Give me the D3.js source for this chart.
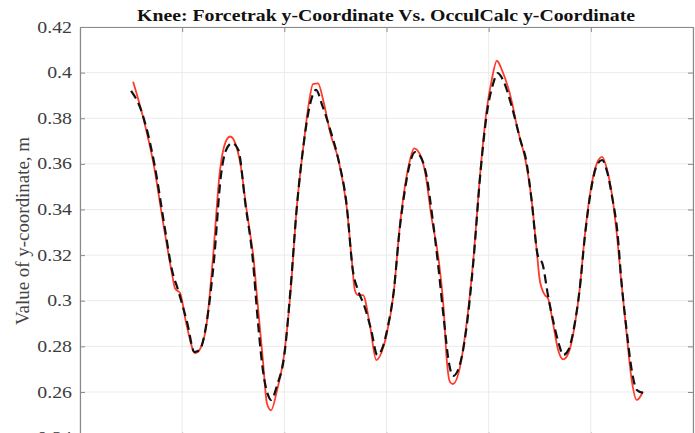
<!DOCTYPE html>
<html>
<head>
<meta charset="utf-8">
<script src="https://cdn.jsdelivr.net/npm/d3@7"></script>
<style>
	body { margin: 0; background: #fff; overflow: hidden; }
	text { font-family: "Liberation Serif", "Times New Roman", serif; }
</style>
</head>
<body>
<div id="chart-area"></div>
<script>
// Forcetrak (red, solid)
const forcetrakX = [0.52, 0.62, 0.72, 0.82, 0.90, 0.93, 0.98, 1.04, 1.13, 1.17, 1.24, 1.30, 1.37, 1.42, 1.47, 1.52, 1.57, 1.63, 1.66, 1.70, 1.73, 1.79, 1.83, 1.87, 1.93, 1.99, 2.06, 2.12, 2.19, 2.24, 2.28, 2.33, 2.38, 2.45, 2.53, 2.61, 2.66, 2.69, 2.72, 2.77, 2.84, 2.90, 2.97, 3.00, 3.07, 3.13, 3.18, 3.23, 3.27, 3.33, 3.38, 3.44, 3.51, 3.56, 3.59, 3.62, 3.65, 3.72, 3.78, 3.85, 3.92, 3.98, 4.03, 4.08, 4.13, 4.23, 4.27, 4.31, 4.36, 4.42, 4.47, 4.50, 4.55, 4.58, 4.63, 4.68, 4.73, 4.78, 4.84, 4.89, 4.94, 5.01, 5.06, 5.11, 5.16, 5.21, 5.25, 5.30, 5.35, 5.40, 5.45, 5.51];
const forcetrakY = [0.396, 0.380, 0.360, 0.3325, 0.312, 0.3054, 0.3033, 0.290, 0.277, 0.2784, 0.290, 0.318, 0.357, 0.369, 0.372, 0.369, 0.360, 0.340, 0.331, 0.318, 0.303, 0.274, 0.255, 0.252, 0.261, 0.274, 0.3033, 0.340, 0.369, 0.3866, 0.395, 0.3953, 0.388, 0.3734, 0.3617, 0.3412, 0.318, 0.3047, 0.3025, 0.3025, 0.2886, 0.274, 0.2798, 0.285, 0.3033, 0.3325, 0.350, 0.3617, 0.3668, 0.3639, 0.3559, 0.3368, 0.318, 0.296, 0.274, 0.2645, 0.2635, 0.2711, 0.2886, 0.318, 0.3573, 0.3836, 0.3968, 0.4052, 0.4011, 0.3866, 0.3778, 0.3705, 0.3617, 0.3442, 0.3222, 0.3091, 0.3025, 0.3011, 0.2901, 0.2784, 0.2743, 0.2769, 0.2886, 0.3047, 0.3281, 0.3515, 0.3603, 0.3631, 0.3573, 0.3456, 0.331, 0.3076, 0.2857, 0.2652, 0.2565, 0.2601];

// OcculCalc (black, dashed)
const occulX = [0.50, 0.59, 0.73, 0.83, 0.90, 0.96, 1.05, 1.12, 1.17, 1.24, 1.31, 1.38, 1.43, 1.49, 1.55, 1.62, 1.69, 1.74, 1.79, 1.84, 1.87, 1.93, 2.00, 2.06, 2.12, 2.19, 2.25, 2.31, 2.37, 2.45, 2.53, 2.61, 2.67, 2.72, 2.78, 2.85, 2.91, 2.97, 3.01, 3.07, 3.13, 3.18, 3.23, 3.28, 3.34, 3.39, 3.45, 3.50, 3.56, 3.61, 3.65, 3.70, 3.78, 3.85, 3.92, 3.98, 4.04, 4.09, 4.14, 4.23, 4.31, 4.37, 4.42, 4.48, 4.53, 4.58, 4.64, 4.69, 4.73, 4.78, 4.84, 4.89, 4.94, 5.01, 5.06, 5.11, 5.16, 5.21, 5.26, 5.30, 5.35, 5.40, 5.45, 5.51];
const occulY = [0.392, 0.3845, 0.3595, 0.3319, 0.3135, 0.3047, 0.2902, 0.2775, 0.2784, 0.2907, 0.317, 0.3551, 0.3661, 0.3691, 0.3661, 0.342, 0.3187, 0.2915, 0.2696, 0.2587, 0.2565, 0.2631, 0.2762, 0.3047, 0.3398, 0.369, 0.3858, 0.3924, 0.3858, 0.3748, 0.3617, 0.342, 0.3135, 0.3047, 0.2981, 0.2872, 0.2762, 0.2806, 0.288, 0.3038, 0.3319, 0.3485, 0.3604, 0.3652, 0.3626, 0.3551, 0.3363, 0.3179, 0.2924, 0.2731, 0.267, 0.2696, 0.2872, 0.317, 0.3564, 0.3814, 0.3946, 0.3998, 0.3968, 0.3845, 0.3705, 0.3608, 0.3442, 0.320, 0.3157, 0.3025, 0.2894, 0.2806, 0.2762, 0.2784, 0.2894, 0.3047, 0.3275, 0.3507, 0.3595, 0.3617, 0.3564, 0.3451, 0.3301, 0.3082, 0.2872, 0.2696, 0.2609, 0.2596];

const yTicks = [0.24, 0.26, 0.28, 0.3, 0.32, 0.34, 0.36, 0.38, 0.4, 0.42];
const xTicks = [0, 1, 2, 3, 4, 5, 6];

const titleText = "Knee: Forcetrak y-Coordinate Vs. OcculCalc y-Coordinate";
const yLabelText = "Value of y-coordinate, m";

const svgWidth = 695,
	svgHeight = 433;
const margin = {left: 80, right: 2, top: 27};
const areaWidth = svgWidth - margin.left - margin.right;
const areaHeight = 410.6;
// the source picture is stretched sideways, so text is widened a little
const stretch = 1.24;

const svg = d3.select("#chart-area")
	.append("svg")
	.attr("width", svgWidth)
	.attr("height", svgHeight);

const area = svg.append("g")
	.attr("transform", `translate(${margin.left}, ${margin.top})`);

const x = d3.scaleLinear().domain([0, 6]).range([0, areaWidth]);
const y = d3.scaleLinear().domain([0.24, 0.42]).range([areaHeight, 0]);

// grid
area.append("g").selectAll("line")
	.data(yTicks)
	.enter().append("line")
	.attr("x1", 0).attr("x2", areaWidth)
	.attr("y1", d => y(d)).attr("y2", d => y(d))
	.attr("stroke", "#ebebeb").attr("stroke-width", 1);

area.append("g").selectAll("line")
	.data(xTicks)
	.enter().append("line")
	.attr("y1", 0).attr("y2", areaHeight)
	.attr("x1", d => x(d)).attr("x2", d => x(d))
	.attr("stroke", "#ebebeb").attr("stroke-width", 1);

// axes (box, ticks inside)
const yAxisCall = d3.axisLeft(y)
	.tickValues(yTicks)
	.tickSizeInner(-5).tickSizeOuter(0)
	.tickPadding(8)
	.tickFormat(d => String(+d.toFixed(2)));
const yAxisGroup = area.append("g")
	.call(yAxisCall)
	.attr("font-family", "Liberation Serif")
	.attr("font-size", 16);

const yAxisRight = area.append("g")
	.attr("transform", `translate(${areaWidth}, 0)`)
	.call(d3.axisRight(y).tickValues(yTicks).tickSizeInner(-5).tickSizeOuter(0).tickFormat(""));

const xAxisTop = area.append("g")
	.call(d3.axisTop(x).tickValues(xTicks).tickSizeInner(-5).tickSizeOuter(0).tickFormat(""));

const xAxisBottom = area.append("g")
	.attr("transform", `translate(0, ${areaHeight})`)
	.call(d3.axisBottom(x).tickValues(xTicks).tickSizeInner(-5).tickSizeOuter(0).tickFormat(""));

[yAxisGroup, yAxisRight, xAxisTop, xAxisBottom].forEach(g => {
	g.select(".domain").attr("stroke", "#8a8a8a").attr("stroke-width", 1.2);
	g.selectAll(".tick line").attr("stroke", "#8a8a8a");
});

yAxisGroup.selectAll(".tick text")
	.style("font-family", "'Liberation Serif', serif")
	.style("font-size", "16px")
	.attr("fill", "#3c3c3c")
	.attr("lengthAdjust", "spacingAndGlyphs")
	.attr("textLength", function() { return this.getComputedTextLength() * stretch; });

// lines
const line = d3.line()
	.x(d => x(d[0]))
	.y(d => y(d[1]))
	.curve(d3.curveMonotoneX);

const occulData = occulX.map((d, i) => [d, occulY[i]]);
const forcetrakData = forcetrakX.map((d, i) => [d, forcetrakY[i]]);

area.append("path")
	.datum(forcetrakData)
	.attr("fill", "none")
	.attr("stroke", "#ff3b2b")
	.attr("stroke-width", 1.8)
	.attr("d", line);

area.append("path")
	.datum(occulData)
	.attr("fill", "none")
	.attr("stroke", "#111")
	.attr("stroke-width", 2.2)
	.attr("stroke-dasharray", "9,5")
	.attr("d", line);

// title
svg.append("text")
	.attr("x", 386)
	.attr("y", 21)
	.style("font-size", "17px")
	.attr("font-weight", "bold")
	.attr("text-anchor", "middle")
	.attr("fill", "#111")
	.attr("lengthAdjust", "spacingAndGlyphs")
	.attr("textLength", 498)
	.text(titleText);

// Y Label
svg.append("text")
	.attr("x", -231)
	.attr("y", 29)
	.style("font-size", "18px")
	.attr("text-anchor", "middle")
	.attr("fill", "#444")
	.attr("transform", "rotate(-90)")
	.attr("lengthAdjust", "spacingAndGlyphs")
	.attr("textLength", 188)
	.text(yLabelText);
</script>
</body>
</html>
